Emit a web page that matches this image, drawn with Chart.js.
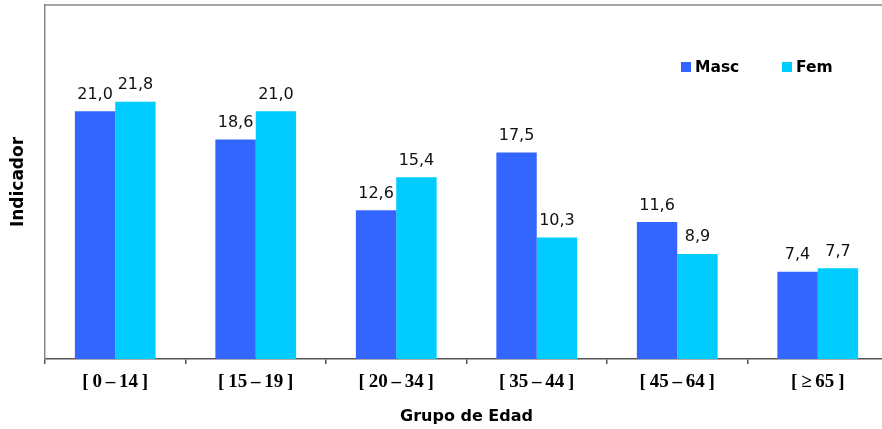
<!DOCTYPE html>
<html>
<head>
<meta charset="utf-8">
<script src="https://cdn.jsdelivr.net/npm/chart.js@4"></script>
<style>
  html, body { margin: 0; padding: 0; background: #fff; overflow: hidden; }
  #wrap { width: 888px; height: 429px; }
</style>
</head>
<body>
<div id="wrap"><canvas id="chart" width="888" height="429"></canvas></div>
<script>
// data
const grupos = ["[\u20090\u2009–\u200914\u2009]", "[\u200915\u2009–\u200919\u2009]", "[\u200920\u2009–\u200934\u2009]",
                "[\u200935\u2009–\u200944\u2009]", "[\u200945\u2009–\u200964\u2009]", "[\u2009≥\u200965\u2009]"];
const masc = [21.0, 18.6, 12.6, 17.5, 11.6, 7.4];
const fem = [21.8, 21.0, 15.4, 10.3, 8.9, 7.7];
const series = ["Masc", "Fem"];
const colores = ["#3366FF", "#00CCFF"];

// value labels above every bar, with decimal comma
const valueLabels = {
  id: 'valueLabels',
  afterDatasetsDraw(chart) {
    const ctx = chart.ctx;
    ctx.save();
    ctx.font = '16px "DejaVu Sans"';
    ctx.fillStyle = '#111';
    ctx.textAlign = 'center';
    ctx.textBaseline = 'alphabetic';
    chart.data.datasets.forEach((ds, i) => {
      chart.getDatasetMeta(i).data.forEach((bar, j) => {
        const txt = ds.data[j].toFixed(1).replace('.', ',');
        ctx.fillText(txt, bar.x, bar.y - 12.5);
      });
    });
    ctx.restore();
  }
};

// top frame line and the small legend in the upper right
const frameAndLegend = {
  id: 'frameAndLegend',
  afterDraw(chart) {
    const ctx = chart.ctx;
    const area = chart.chartArea;
    ctx.save();
    ctx.strokeStyle = '#888';
    ctx.lineWidth = 1.5;
    ctx.beginPath();
    ctx.moveTo(area.left, area.top);
    ctx.lineTo(area.right, area.top);
    ctx.stroke();

    const legendX = [681, 782];
    ctx.font = 'bold 15.5px "DejaVu Sans"';
    ctx.textBaseline = 'middle';
    ctx.textAlign = 'left';
    chart.data.datasets.forEach((ds, i) => {
      ctx.fillStyle = ds.backgroundColor;
      ctx.fillRect(legendX[i], 62, 10, 10);
      ctx.fillStyle = '#000';
      ctx.fillText(ds.label, legendX[i] + 14, 67.5);
    });
    ctx.restore();
  }
};

new Chart(document.getElementById('chart').getContext('2d'), {
  type: 'bar',
  data: {
    labels: grupos,
    datasets: [
      { label: series[0], data: masc, backgroundColor: colores[0] },
      { label: series[1], data: fem, backgroundColor: colores[1] }
    ]
  },
  options: {
    responsive: false,
    animation: false,
    devicePixelRatio: 1,
    layout: { padding: { top: 5, left: 0, right: 0, bottom: 0 } },
    datasets: {
      bar: { categoryPercentage: 0.575, barPercentage: 1.0, borderWidth: 0 }
    },
    plugins: {
      legend: { display: false },
      tooltip: { enabled: false }
    },
    scales: {
      x: {
        offset: true,
        grid: {
          display: true,
          drawOnChartArea: false,
          drawTicks: true,
          tickLength: 5,
          color: '#555',
          lineWidth: 1.5
        },
        border: { display: true, color: '#555', width: 1.5 },
        ticks: {
          color: '#000',
          padding: 7,
          font: { family: '"Liberation Serif"', size: 19, weight: 'bold' }
        },
        title: {
          display: true,
          text: 'Grupo de Edad',
          color: '#000',
          font: { family: '"DejaVu Sans"', size: 16, weight: 'bold' },
          padding: { top: 4, bottom: 2.4 }
        },
        afterFit(scale) { scale.height = 70; }
      },
      y: {
        min: 0,
        max: 30,
        grid: { display: false, drawTicks: false },
        border: { display: true, color: '#888', width: 1.5 },
        ticks: { display: false },
        title: {
          display: true,
          text: 'Indicador',
          color: '#000',
          font: { family: '"DejaVu Sans"', size: 17, weight: 'bold' },
          padding: { top: 8.8, bottom: 4 }
        },
        afterFit(scale) { scale.width = 45; }
      }
    }
  },
  plugins: [valueLabels, frameAndLegend]
});
</script>
</body>
</html>
